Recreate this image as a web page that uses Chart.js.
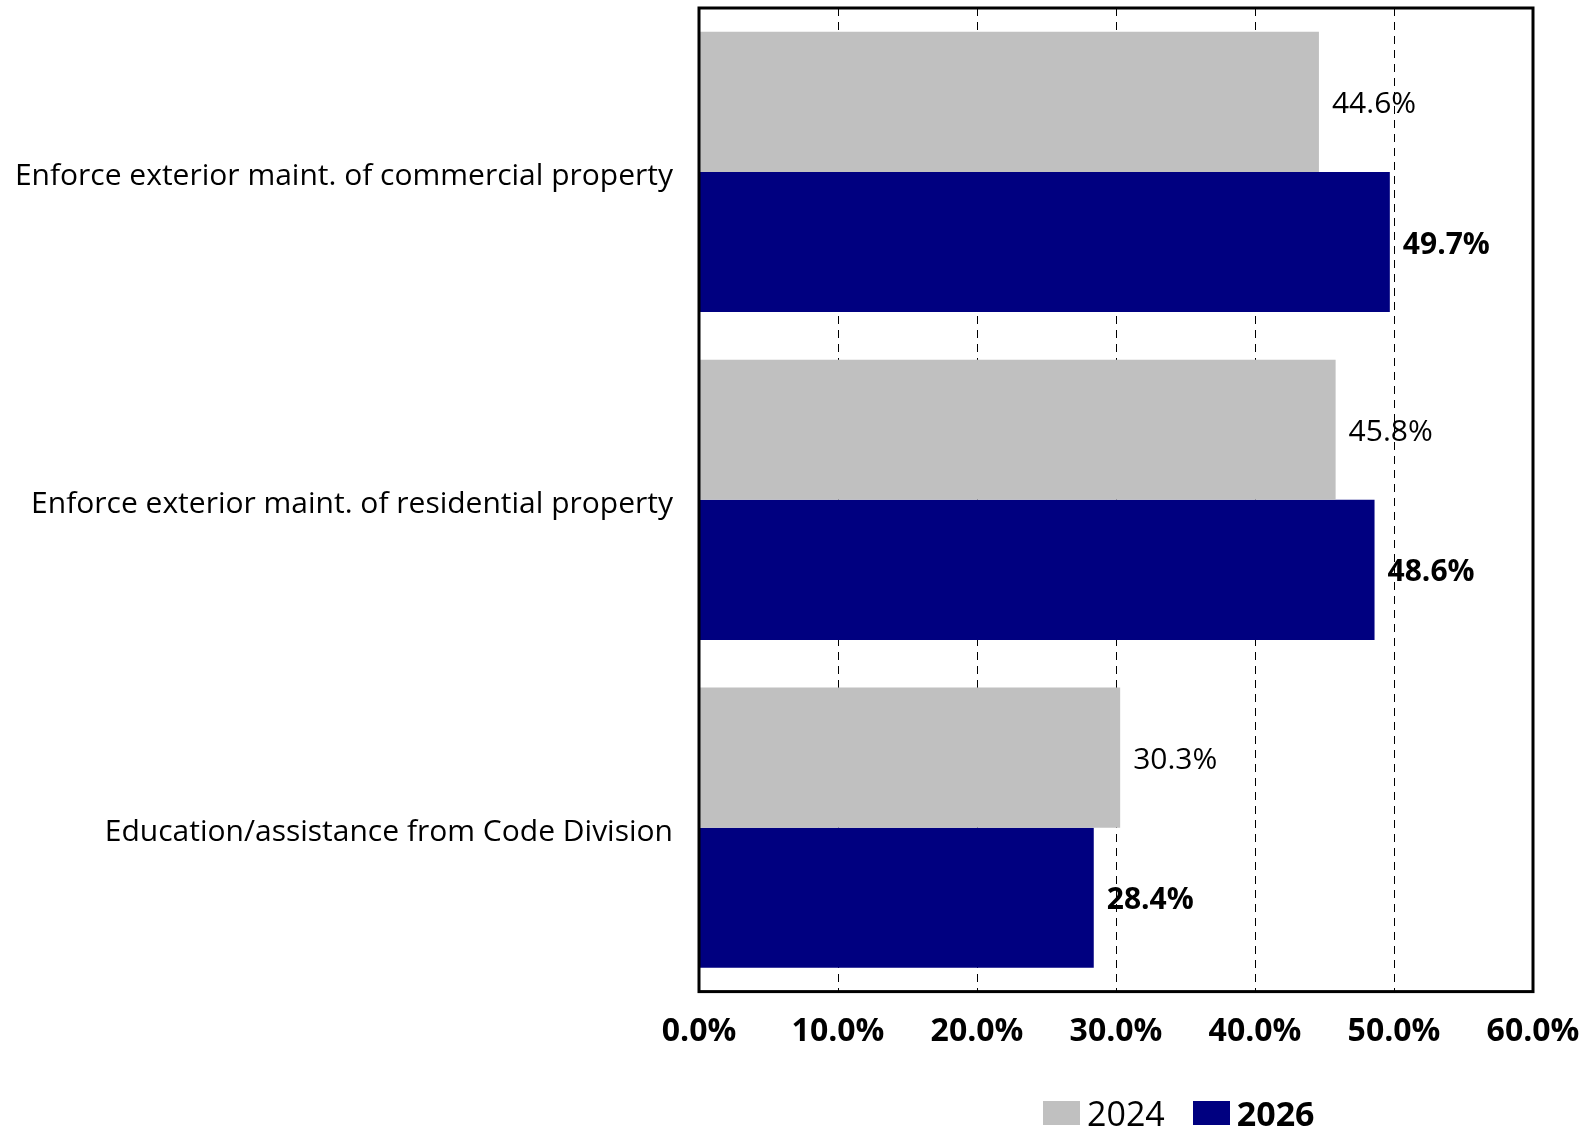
<!DOCTYPE html>
<html lang="en">
<head>
  <meta charset="UTF-8">
  <title>Code enforcement priorities</title>
  <style>
    body {
      margin: 0;
      padding: 0;
      background: #fff;
      font-family: "Open Sans", Arial, sans-serif;
    }

    .wrap {
      position: relative;
      width: 1591px;
      height: 1127px;
    }

    .legend {
      position: absolute;
      left: 1043px;
      top: 1090px;
      display: flex;
      align-items: center;
      font-size: 34px;
      color: #000;
    }

    .legend .box {
      width: 37px;
      height: 24px;
      margin-right: 7px;
    }

    .legend .item {
      display: flex;
      align-items: center;
      margin-right: 28px;
    }
  </style>
  <script src="https://cdn.jsdelivr.net/npm/chart.js"></script>
</head>
<body>
  <div class="wrap">
    <canvas id="chart" width="1591" height="1127"></canvas>
    <div class="legend">
      <div class="item"><div class="box" style="background:#c0c0c0"></div><span>2024</span></div>
      <div class="item"><div class="box" style="background:#000080"></div><span style="font-weight:bold">2026</span></div>
    </div>
  </div>

  <script>
    const categories = [
      "Enforce exterior maint. of commercial property",
      "Enforce exterior maint. of residential property",
      "Education/assistance from Code Division"
    ];
    const values2024 = [44.6, 45.8, 30.3];
    const values2026 = [49.7, 48.6, 28.4];
    const xTicks = [0, 10, 20, 30, 40, 50, 60];

    const fontFamily = '"Open Sans", Arial, sans-serif';

    // value labels at the end of each bar
    const barLabels = {
      id: "barLabels",
      afterDatasetsDraw(chart) {
        const ctx = chart.ctx;
        ctx.save();
        ctx.fillStyle = "#000";
        ctx.textBaseline = "middle";
        ctx.textAlign = "left";
        chart.data.datasets.forEach((ds, i) => {
          const meta = chart.getDatasetMeta(i);
          ctx.font = (i === 1 ? "bold " : "") + "30px " + fontFamily;
          meta.data.forEach((bar, j) => {
            ctx.fillText(ds.data[j].toFixed(1) + "%", bar.x + 13, bar.y + 3);
          });
        });
        ctx.restore();
      }
    };

    // thick black frame round the plot area
    const frame = {
      id: "frame",
      afterDraw(chart) {
        const a = chart.chartArea;
        const ctx = chart.ctx;
        ctx.save();
        ctx.strokeStyle = "#000";
        ctx.lineWidth = 3;
        ctx.strokeRect(a.left, a.top, a.right - a.left, a.bottom - a.top);
        ctx.restore();
      }
    };

    new Chart(document.getElementById("chart"), {
      type: "bar",
      data: {
        labels: categories,
        datasets: [
          {
            label: "2024",
            data: values2024,
            backgroundColor: "#c0c0c0",
            categoryPercentage: 0.855,
            barPercentage: 1.0
          },
          {
            label: "2026",
            data: values2026,
            backgroundColor: "#000080",
            categoryPercentage: 0.855,
            barPercentage: 1.0
          }
        ]
      },
      plugins: [barLabels, frame],
      options: {
        indexAxis: "y",
        responsive: false,
        animation: false,
        layout: {
          padding: { top: 8, right: 58, bottom: 55, left: 0 }
        },
        plugins: {
          legend: { display: false },
          tooltip: { enabled: false }
        },
        scales: {
          x: {
            min: 0,
            max: 60,
            afterBuildTicks(axis) {
              axis.ticks = xTicks.map(v => ({ value: v }));
            },
            afterFit(axis) {
              axis.paddingLeft = 0;
              axis.paddingRight = 0;
            },
            grid: {
              color: "#000",
              lineWidth: 1,
              drawTicks: false
            },
            border: { display: false, dash: [8, 6] },
            ticks: {
              padding: 21,
              color: "#000",
              font: { family: fontFamily, size: 32, weight: "bold" },
              callback: v => v.toFixed(1) + "%"
            }
          },
          y: {
            afterFit(axis) {
              axis.width = 699;
              axis.paddingTop = 0;
              axis.paddingBottom = 0;
            },
            grid: { display: false, drawTicks: false },
            border: { display: false },
            ticks: {
              padding: 26,
              labelOffset: 5,
              color: "#000",
              font: { family: fontFamily, size: 30 }
            }
          }
        }
      }
    });
  </script>
</body>
</html>
